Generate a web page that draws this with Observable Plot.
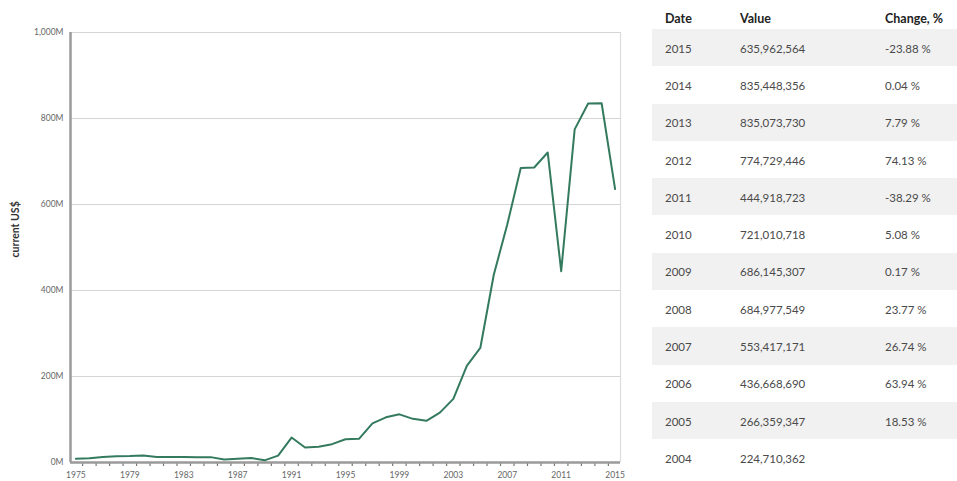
<!DOCTYPE html>
<html>
<head>
<meta charset="utf-8">
<script src="https://cdn.jsdelivr.net/npm/d3@7"></script>
<script src="https://cdn.jsdelivr.net/npm/@observablehq/plot@0.6"></script>
<style>
  body { margin: 0; background: #fff; font-family: Lato, "Open Sans", sans-serif; }
  #wrap { position: relative; width: 957px; height: 481px; overflow: hidden; }
  #chart { position: absolute; left: 0; top: 0; }
  #table { position: absolute; left: 652px; top: 0; width: 305px; }
  .row { position: relative; height: 37.3px; }
  .row.head { height: 29px; }
  .row.shade { background: #f1f1f1; }
  .cell { position: absolute; top: 50%; transform: translateY(-50%); font-size: 11.5px; color: #4a4a4a; white-space: nowrap; }
  .head .cell { top: 18px; font-weight: bold; color: #222; font-size: 12.5px; }
</style>
</head>
<body>
<div id="wrap">
  <div id="chart"></div>
  <div id="table"></div>
</div>
<script>
// Years of the series
const years = [1975,1976,1977,1978,1979,1980,1981,1982,1983,1984,1985,1986,1987,1988,1989,1990,1991,1992,1993,1994,1995,1996,1997,1998,1999,2000,2001,2002,2003,2004,2005,2006,2007,2008,2009,2010,2011,2012,2013,2014,2015];
// Values in current US$ (1975-2003, 2004-2015 from the table)
const values = [8.6e6,10e6,13e6,14.7e6,15e6,16e6,13e6,13e6,13e6,12e6,12.5e6,7e6,8.6e6,10.7e6,5e6,16e6,58e6,35e6,36.5e6,42.6e6,54e6,55e6,91e6,105e6,112e6,101.5e6,97e6,116e6,148e6,
  224710362,266359347,436668690,553417171,684977549,686145307,721010718,444918723,774729446,835073730,835448356,635962564];

// Table
const tableYears = ["2015","2014","2013","2012","2011","2010","2009","2008","2007","2006","2005","2004"];
const tableValues = ["635,962,564","835,448,356","835,073,730","774,729,446","444,918,723","721,010,718","686,145,307","684,977,549","553,417,171","436,668,690","266,359,347","224,710,362"];
const tableChanges = ["-23.88 %","0.04 %","7.79 %","74.13 %","-38.29 %","5.08 %","0.17 %","23.77 %","26.74 %","63.94 %","18.53 %",""];
const tableHeaders = ["Date","Value","Change, %"];

// Axis ticks
const yTicks = [0, 200e6, 400e6, 600e6, 800e6, 1000e6];
const xTickLabels = [1975, 1979, 1983, 1987, 1991, 1995, 1999, 2003, 2007, 2011, 2015];
const yLabel = "current US$";
const xDomain = [1974.6, 2015.4];

const data = years.map((y, i) => ({year: y, value: values[i]}));
// tick marks sit between consecutive years
const yearBounds = years.slice(1).map(y => y - 0.5);

const chart = Plot.plot({
  width: 640,
  height: 481,
  marginLeft: 70,
  marginRight: 20,
  marginTop: 32,
  marginBottom: 19,
  style: {fontFamily: "Lato, 'Open Sans', sans-serif", fontSize: "8.5px", color: "#666", background: "transparent"},
  x: {domain: xDomain},
  y: {domain: [0, 1000e6]},
  marks: [
    Plot.gridY(yTicks, {stroke: "#d4d4d4", strokeOpacity: 1, strokeWidth: 1.2}),
    Plot.ruleX([xDomain[1]], {stroke: "#dcdcdc", strokeWidth: 1.2}),
    Plot.axisX(yearBounds, {tickSize: 4, stroke: "#777", strokeWidth: 1.2, tickFormat: () => "", label: null}),
    Plot.axisX(xTickLabels, {tickSize: 0, tickPadding: 9, tickFormat: d => String(d), fill: "#666", label: null}),
    Plot.axisY(yTicks, {tickSize: 0, tickPadding: 7, tickFormat: d => d3.format(",")(d / 1e6) + "M", fill: "#666", label: null}),
    Plot.ruleX([xDomain[0]], {stroke: "#9a9a9a", strokeWidth: 2.5}),
    Plot.ruleY([0], {stroke: "#9a9a9a", strokeWidth: 2.5}),
    Plot.line(data, {x: "year", y: "value", stroke: "#347a5f", strokeWidth: 2}),
    Plot.text([yLabel], {frameAnchor: "left", rotate: -90, dx: -55, dy: 10, fontSize: 10.5, fontWeight: "bold", fill: "#333"})
  ]
});
document.getElementById("chart").appendChild(chart);

const colX = [13, 88, 233];
const table = document.getElementById("table");
function addRow(cells, cls) {
  const row = document.createElement("div");
  row.className = "row " + cls;
  cells.forEach((t, j) => {
    const c = document.createElement("div");
    c.className = "cell";
    c.style.left = colX[j] + "px";
    c.textContent = t;
    row.appendChild(c);
  });
  table.appendChild(row);
}
addRow(tableHeaders, "head");
tableYears.forEach((y, i) => addRow([y, tableValues[i], tableChanges[i]], i % 2 === 0 ? "shade" : ""));
</script>
</body>
</html>
